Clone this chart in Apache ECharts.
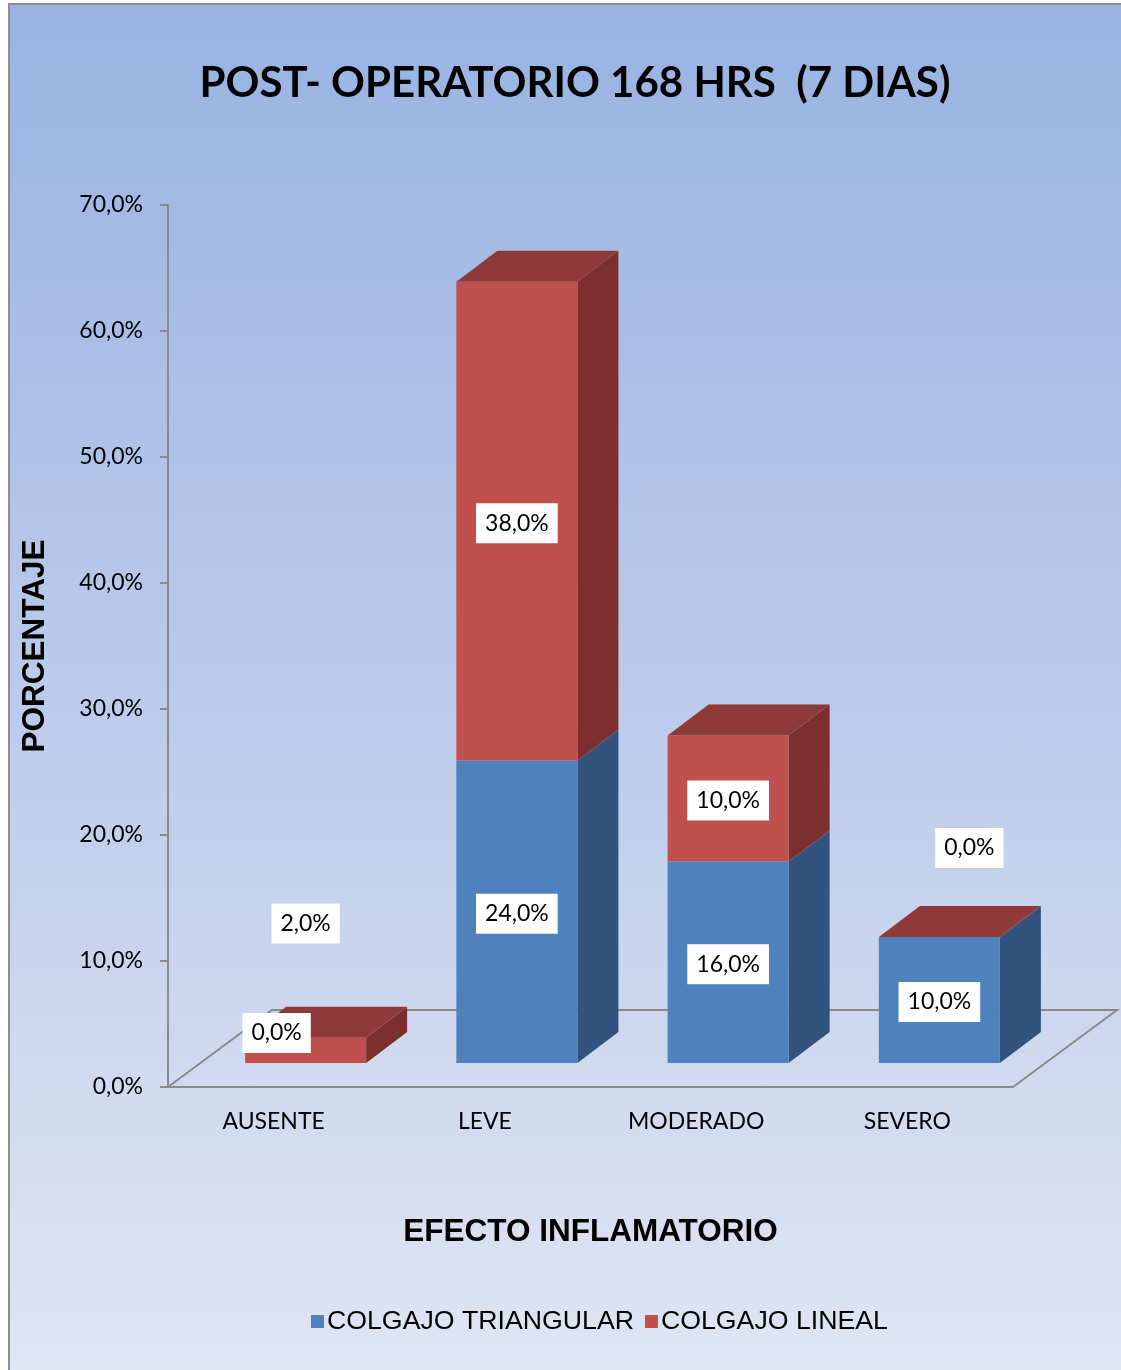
<!DOCTYPE html>
<html>
<head>
<meta charset="utf-8">
<script src="https://cdn.jsdelivr.net/npm/echarts@6/dist/echarts.min.js"></script>
<style>
html,body{margin:0;padding:0;background:#fff;}
#wrap{position:relative;width:1121px;height:1370px;overflow:hidden;}
#bg{position:absolute;left:8px;top:3px;width:1300px;height:1500px;border-left:2px solid #8e8e8e;border-top:2px solid #8e8e8e;
background:linear-gradient(to bottom,#98b3e3 0px,#bccbea 700px,#dfe6f4 1367px);}
#chart{position:absolute;left:0;top:0;width:1121px;height:1370px;}
</style>
</head>
<body>
<div id="wrap"><div id="bg"></div><div id="chart"></div></div>
<script>
// ---- data ----
const categories = ['AUSENTE', 'LEVE', 'MODERADO', 'SEVERO'];
const triangular = [0, 24, 16, 10];   // COLGAJO TRIANGULAR (%)
const lineal = [2, 38, 10, 0];        // COLGAJO LINEAL (%)
const yMin = 0, yMax = 70, yStep = 10;
const seriesNames = ['COLGAJO TRIANGULAR', 'COLGAJO LINEAL'];

// ---- styling constants ----
const FLOOR_DX = 104, FLOOR_DY = -77;   // floor depth
const SHIFT_DX = 32, SHIFT_DY = -24;    // bar offset into depth
const BAR_DX = 41, BAR_DY = -31;        // bar depth
const BAR_RATIO = 0.573;
const LABEL_FONT = '23px Lato';
const blueColors = {front: '#4f81bd', side: '#32537d', top: '#3f6aa0'};
const redColors = {front: '#c0504d', side: '#7c2f2d', top: '#8f3a38'};
// manual label nudges (pixels), per series per category
const labelNudge = [
  [[-29, -32], [0, 0], [0, 0], [0, 0]],
  [[0, -129], [0, 0], [0, 0], [30, -91]]
];

function fmt(v) { return v.toFixed(1).replace('.', ',') + '%'; }

function barGeom(api, cat, base, val) {
  const bw = api.size([1, 0])[0] * BAR_RATIO;
  const pb = api.coord([cat, base]);
  const pt = api.coord([cat, base + val]);
  return {
    xl: pb[0] - bw / 2 + SHIFT_DX, xr: pb[0] + bw / 2 + SHIFT_DX,
    yb: pb[1] + SHIFT_DY, yt: pt[1] + SHIFT_DY, bw: bw
  };
}

function makeRender(colors, sIdx) {
  return function (params, api) {
    const cat = api.value(0), base = api.value(1), val = api.value(2);
    const g = barGeom(api, cat, base, val);
    const children = [];
    const isTop = sIdx === 1;
    if (val > 0) {
      children.push({type: 'polygon', shape: {points: [[g.xr, g.yb], [g.xr + BAR_DX, g.yb + BAR_DY], [g.xr + BAR_DX, g.yt + BAR_DY], [g.xr, g.yt]]},
        style: {fill: colors.side}});
      children.push({type: 'rect', shape: {x: g.xl, y: g.yt, width: g.bw, height: g.yb - g.yt}, style: {fill: colors.front}});
    }
    if (isTop) {
      children.push({type: 'polygon', shape: {points: [[g.xl, g.yt], [g.xl + BAR_DX, g.yt + BAR_DY], [g.xr + BAR_DX, g.yt + BAR_DY], [g.xr, g.yt]]},
        style: {fill: colors.top}});
    }
    return {type: 'group', children: children};
  };
}

function renderLabel(params, api) {
  const sIdx = api.value(0), cat = api.value(1), base = api.value(2), val = api.value(3);
  const g = barGeom(api, cat, base, val);
  const nd = labelNudge[sIdx][cat];
  return {type: 'text', style: {
    text: fmt(val), x: (g.xl + g.xr) / 2 + nd[0], y: (g.yb + g.yt) / 2 + nd[1] + 2,
    align: 'center', verticalAlign: 'middle', font: LABEL_FONT, fill: '#000',
    backgroundColor: '#fff', padding: [9, 9, 8, 9]
  }};
}

const triData = categories.map((c, i) => [i, 0, triangular[i]]);
const linData = categories.map((c, i) => [i, triangular[i], lineal[i]]);
const labelData = [];
categories.forEach((c, i) => labelData.push([0, i, 0, triangular[i]]));
categories.forEach((c, i) => labelData.push([1, i, triangular[i], lineal[i]]));

const chart = echarts.init(document.getElementById('chart'));
chart.setOption({
  animation: false,
  backgroundColor: 'transparent',
  graphic: [{
    type: 'text', x: 575, y: 83, z: 100,
    style: {text: 'POST- OPERATORIO 168 HRS  (7 DIAS)', align: 'center', verticalAlign: 'middle',
      font: 'bold 42px Lato', fill: '#000'}
  }],
  grid: {left: 168, right: 108, top: 205, bottom: 283},
  legend: {
    data: seriesNames, top: 1308, left: 311, padding: 0, itemWidth: 13, itemHeight: 13, itemGap: 11, icon: 'rect',
    textStyle: {fontFamily: 'Liberation Sans', fontSize: 26.7, color: '#000', padding: [0, 0, 0, -2]}
  },
  xAxis: {
    type: 'category', data: categories,
    axisLine: {lineStyle: {color: '#8a8a8a', width: 2}},
    axisTick: {show: false},
    axisLabel: {fontFamily: 'Lato', fontSize: 23, color: '#000', margin: 23},
    name: 'EFECTO INFLAMATORIO', nameLocation: 'middle', nameGap: 129,
    nameTextStyle: {fontFamily: 'Liberation Sans', fontWeight: 'bold', fontSize: 31.5, color: '#000'}
  },
  yAxis: {
    type: 'value', min: yMin, max: yMax, interval: yStep,
    axisLine: {show: true, lineStyle: {color: '#8a8a8a', width: 2}},
    axisTick: {show: true, length: 8, lineStyle: {color: '#8a8a8a', width: 2}},
    splitLine: {show: false},
    axisLabel: {fontFamily: 'Lato', fontSize: 23, color: '#000', margin: 25, padding: [4, 0, 0, 0], formatter: v => fmt(v)},
    name: 'PORCENTAJE', nameLocation: 'middle', nameGap: 117,
    nameTextStyle: {fontFamily: 'Liberation Sans', fontWeight: 'bold', fontSize: 31.5, color: '#000'}
  },
  series: [
    {
      type: 'custom', name: 'floor', z: 1, silent: true, clip: false, data: [[0, 0]],
      renderItem: function (params, api) {
        const cs = params.coordSys;
        const x = cs.x, y = cs.y + cs.height, w = cs.width;
        return {type: 'polyline', shape: {points: [[x, y], [x + FLOOR_DX, y + FLOOR_DY], [x + w + FLOOR_DX, y + FLOOR_DY], [x + w, y]]},
          style: {stroke: '#8a8a8a', lineWidth: 2, fill: null}};
      }
    },
    {
      type: 'custom', name: seriesNames[0], z: 3, clip: false, data: triData,
      itemStyle: {color: blueColors.front},
      encode: {x: 0, y: 2},
      renderItem: makeRender(blueColors, 0)
    },
    {
      type: 'custom', name: seriesNames[1], z: 4, clip: false, data: linData,
      itemStyle: {color: redColors.front},
      encode: {x: 0, y: 2},
      renderItem: makeRender(redColors, 1)
    },
    {
      type: 'custom', name: 'labels', z: 10, silent: true, clip: false, data: labelData,
      encode: {x: 1, y: 3},
      renderItem: renderLabel
    }
  ]
});
</script>
</body>
</html>
